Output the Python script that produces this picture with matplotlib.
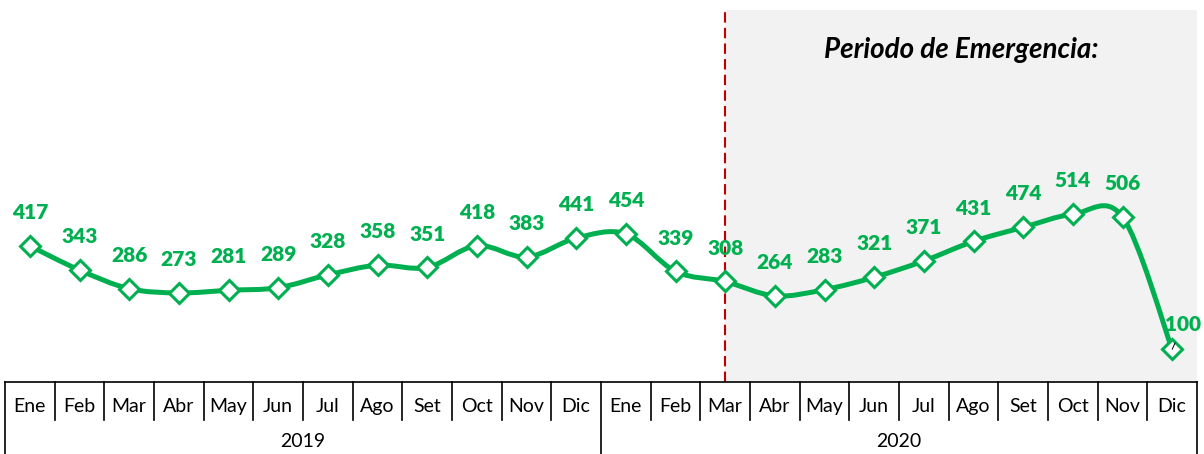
import numpy as np
import matplotlib.pyplot as plt
from matplotlib.path import Path
from matplotlib.patches import PathPatch
from matplotlib.transforms import blended_transform_factory

meses = ["Ene", "Feb", "Mar", "Abr", "May", "Jun", "Jul", "Ago", "Set", "Oct", "Nov", "Dic"]
anios = ["2019", "2020"]
valores_2019 = [417, 343, 286, 273, 281, 289, 328, 358, 351, 418, 383, 441]
valores_2020 = [454, 339, 308, 264, 283, 321, 371, 431, 474, 514, 506, 100]
inicio_emergencia = ("2020", "Mar")

verde = "#00B050"
plt.rcParams["font.family"] = ["Lato", "DejaVu Sans"]

valores = np.array(valores_2019 + valores_2020, dtype=float)
x = np.arange(len(valores), dtype=float)
etiquetas_mes = meses * len(anios)
idx_emerg = anios.index(inicio_emergencia[0]) * 12 + meses.index(inicio_emergencia[1])

fig = plt.figure(figsize=(12.04, 4.54), dpi=100)
ax = fig.add_axes([5 / 1204, 72 / 454, 1192 / 1204, 372 / 454])
ax.set_xlim(-0.5, len(valores) - 0.5)
ax.set_ylim(0, 1140)
for s in ["top", "left", "right"]:
    ax.spines[s].set_visible(False)
ax.spines["bottom"].set_linewidth(1.2)
ax.set_xticks([])
ax.set_yticks([])

# zona de emergencia
ax.axvspan(idx_emerg, len(valores) - 0.5, color="#F2F2F2", zorder=0, lw=0)
ax.axvline(idx_emerg, color="#C00000", lw=1.5, dashes=(5, 2.5), zorder=1)
ax.text((idx_emerg + len(valores) - 0.5) / 2, 1018, "Periodo de Emergencia:",
        fontsize=20, fontweight="bold", fontstyle="italic", ha="center", va="center")

# linea suavizada (bezier tipo Excel)
P = np.column_stack([x, valores])
Pext = np.vstack([P[0], P, P[-1]])
verts = [P[0]]
codes = [Path.MOVETO]
for i in range(len(P) - 1):
    c1 = P[i] + (Pext[i + 2] - Pext[i]) / 6
    c2 = P[i + 1] - (Pext[i + 3] - Pext[i + 1]) / 6
    verts += [c1, c2, P[i + 1]]
    codes += [Path.CURVE4] * 3
ax.add_patch(PathPatch(Path(verts, codes), fill=False, edgecolor=verde, lw=3.6,
                       capstyle="round", joinstyle="round", zorder=3))
ax.plot(x, valores, ls="none", marker="D", ms=10, mfc="white", mec=verde, mew=2.2, zorder=4)

for xi, v in zip(x, valores):
    if xi == len(valores) - 1:
        ax.annotate(f"{v:.0f}", (xi, v), xytext=(8, 18), textcoords="offset points",
                    ha="center", va="center", fontsize=15, fontweight="heavy", color=verde,
                    zorder=5,
                    arrowprops=dict(arrowstyle="-", color="black", lw=0.7, shrinkA=5, shrinkB=0))
    else:
        ax.annotate(f"{v:.0f}", (xi, v), xytext=(0, 24), textcoords="offset points",
                    ha="center", va="center", fontsize=15, fontweight="heavy", color=verde)

# eje de categorias en dos niveles
tr = blended_transform_factory(ax.transData, ax.transAxes)
for k in range(len(valores) + 1):
    xb = k - 0.5
    bajo = -0.194 if k % 12 == 0 else -0.102
    ax.plot([xb, xb], [0, bajo], color="black", lw=1.2, transform=tr, clip_on=False)
for xi, m in zip(x, etiquetas_mes):
    ax.text(xi, -0.067, m, transform=tr, ha="center", va="center", fontsize=14)
for j, a in enumerate(anios):
    ax.text(j * 12 + 5.5, -0.159, a, transform=tr, ha="center", va="center", fontsize=14)

fig.savefig("out.png", dpi=100)
